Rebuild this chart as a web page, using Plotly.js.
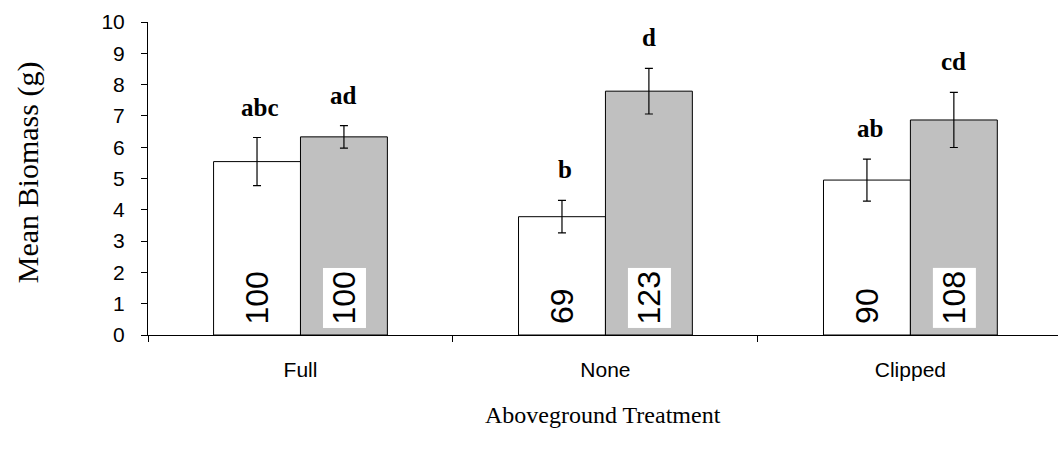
<!DOCTYPE html>
<html>
<head>
<meta charset="utf-8">
<script src="https://cdn.plot.ly/plotly-3.0.1.min.js"></script>
<style>html,body{margin:0;padding:0;background:#fff;}#chart{width:1058px;height:453px;}</style>
</head>
<body>
<div id="chart"></div>
<script>
// Data
var categories = ['Full', 'None', 'Clipped'];
var whiteMeans = [5.54, 3.78, 4.95];
var whiteErrors = [0.77, 0.52, 0.67];
var grayMeans = [6.33, 7.79, 6.87];
var grayErrors = [0.36, 0.73, 0.88];
var whiteLetters = ['abc', 'b', 'ab'];
var grayLetters = ['ad', 'd', 'cd'];
var whitePercents = ['100', '69', '90'];
var grayPercents = ['100', '123', '108'];
var yTickVals = [0,1,2,3,4,5,6,7,8,9,10];

var serif = '"Liberation Serif", "Times New Roman", serif';
var sans = '"Liberation Sans", Arial, sans-serif';

var traces = [
  {
    type: 'bar', x: categories, y: whiteMeans, name: 'white',
    marker: {color: '#ffffff', line: {color: '#000000', width: 1}},
    error_y: {type: 'data', array: whiteErrors, visible: true, color: '#000000', thickness: 1.2, width: 4},
    hoverinfo: 'skip'
  },
  {
    type: 'bar', x: categories, y: grayMeans, name: 'gray',
    marker: {color: '#c0c0c0', line: {color: '#000000', width: 1}},
    error_y: {type: 'data', array: grayErrors, visible: true, color: '#000000', thickness: 1.2, width: 4},
    hoverinfo: 'skip'
  }
];

var annotations = [];
var off = 43.5;
for (var i = 0; i < categories.length; i++) {
  annotations.push({x: categories[i], y: whiteMeans[i] + whiteErrors[i], xref: 'x', yref: 'y', xshift: -off + 3,
    yanchor: 'bottom', yshift: 15, text: '<b>' + whiteLetters[i] + '</b>', showarrow: false,
    font: {family: serif, size: 25, color: '#000'}});
  annotations.push({x: categories[i], y: grayMeans[i] + grayErrors[i], xref: 'x', yref: 'y', xshift: off,
    yanchor: 'bottom', yshift: 15, text: '<b>' + grayLetters[i] + '</b>', showarrow: false,
    font: {family: serif, size: 25, color: '#000'}});
  annotations.push({x: categories[i], y: 0, xref: 'x', yref: 'y', xshift: -off, yanchor: 'bottom', yshift: 7,
    text: whitePercents[i], textangle: -90, showarrow: false, borderpad: 3,
    font: {family: sans, size: 32, color: '#000'}});
  annotations.push({x: categories[i], y: 0, xref: 'x', yref: 'y', xshift: off, yanchor: 'bottom', yshift: 7,
    text: grayPercents[i], textangle: -90, showarrow: false, bgcolor: '#ffffff', borderpad: 3,
    font: {family: sans, size: 32, color: '#000'}});
}
// axis titles
annotations.push({xref: 'paper', yref: 'paper', x: -120/910, y: 0.52, xanchor: 'center', yanchor: 'middle',
  text: 'Mean Biomass (g)', textangle: -90, showarrow: false, font: {family: serif, size: 30, color: '#000'}});
annotations.push({xref: 'paper', yref: 'paper', x: 0.5, y: -80/313, xanchor: 'center', yanchor: 'middle',
  text: 'Aboveground Treatment', showarrow: false, font: {family: serif, size: 24, color: '#000'}});

var layout = {
  width: 1058, height: 453,
  margin: {l: 148, r: 0, t: 22, b: 118, pad: 0},
  paper_bgcolor: '#ffffff', plot_bgcolor: '#ffffff',
  showlegend: false,
  barmode: 'group', bargap: 0.43, bargroupgap: 0,
  xaxis: {
    type: 'category', categoryorder: 'array', categoryarray: categories,
    range: [-0.5, 2.484], tickson: 'boundaries', ticks: 'outside', ticklen: 6, tickcolor: '#000', tickwidth: 1,
    showline: true, linecolor: '#000', linewidth: 1, showgrid: false, zeroline: false,
    tickfont: {family: sans, size: 21, color: '#000'}, ticklabelstandoff: 16, fixedrange: true
  },
  yaxis: {
    range: [0, 10], tickvals: yTickVals, ticks: 'outside', ticklen: 6, tickcolor: '#000', tickwidth: 1,
    showline: true, linecolor: '#000', linewidth: 1, showgrid: false, zeroline: false,
    tickfont: {family: sans, size: 21, color: '#000'}, ticklabelstandoff: 12, fixedrange: true
  },
  annotations: annotations
};

Plotly.newPlot('chart', traces, layout, {staticPlot: true, displayModeBar: false});
</script>
</body>
</html>
